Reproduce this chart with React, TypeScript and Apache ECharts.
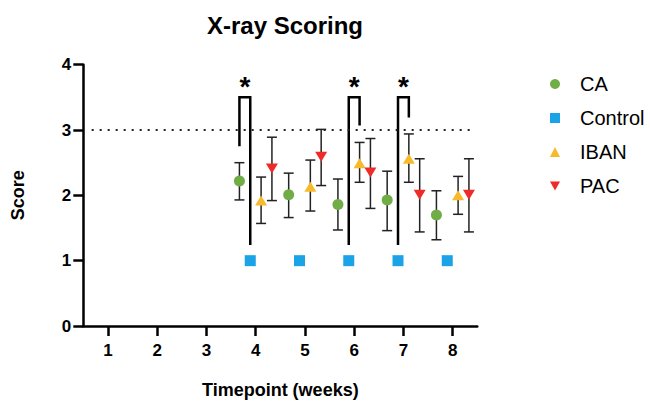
import React, { useEffect, useRef } from "react";
import * as echarts from "echarts";

const weeks = [4, 5, 6, 7, 8];
const xTickValues = [1, 2, 3, 4, 5, 6, 7, 8];
const groupNames = ["CA", "Control", "IBAN", "PAC"];

const caMean = [2.22, 2.01, 1.86, 1.93, 1.7];
const caLow = [1.93, 1.66, 1.47, 1.46, 1.32];
const caHigh = [2.5, 2.34, 2.25, 2.37, 2.07];

const controlMean = [1, 1, 1, 1, 1];

const ibanMean = [1.92, 2.13, 2.49, 2.56, 2.0];
const ibanLow = [1.57, 1.76, 2.2, 2.2, 1.71];
const ibanHigh = [2.28, 2.54, 2.81, 2.94, 2.29];

const pacMean = [2.41, 2.59, 2.35, 2.01, 2.01];
const pacLow = [1.92, 2.15, 1.8, 1.44, 1.44];
const pacHigh = [2.89, 3.01, 2.87, 2.56, 2.56];

const referenceValue = 3;

// significance brackets
const bracketWeeks = [4, 6, 7];
const bracketFrom = [0, 1, 1]; // group index
const bracketTo = [1, 2, 2];
const bracketLeftEnd = [2.75, 1.24, 1.24];
const bracketRightEnd = [1.24, 3.07, 3.19];
const bracketTop = [3.5, 3.5, 3.5];
const bracketLabel = ["*", "*", "*"];

const groupOffsets = [-0.33, -0.11, 0.11, 0.33];
const colors = ["#70AD47", "#1BA3E8", "#F6BA2A", "#EE2B28"];
const FONT = "'Liberation Sans', Arial, Helvetica, sans-serif";

const pts = (mean: number[], g: number) =>
  weeks.map((w, i) => [w + groupOffsets[g], mean[i]]);
const errs = (low: number[], high: number[], g: number) =>
  weeks.map((w, i) => [w + groupOffsets[g], low[i], high[i]]);

const errorRender = (params: any, api: any) => {
  const x = api.value(0);
  const pLo = api.coord([x, api.value(1)]);
  const pHi = api.coord([x, api.value(2)]);
  const cap = 5;
  const style = { stroke: "#222", lineWidth: 1.5 };
  return {
    type: "group",
    children: [
      { type: "line", shape: { x1: pLo[0], y1: pLo[1], x2: pHi[0], y2: pHi[1] }, style },
      { type: "line", shape: { x1: pLo[0] - cap, y1: pLo[1], x2: pLo[0] + cap, y2: pLo[1] }, style },
      { type: "line", shape: { x1: pHi[0] - cap, y1: pHi[1], x2: pHi[0] + cap, y2: pHi[1] }, style },
    ],
  };
};

const bracketRender = (params: any, api: any) => {
  const xl = api.value(0);
  const xr = api.value(1);
  const a = api.coord([xl, api.value(2)]);
  const b = api.coord([xl, api.value(4)]);
  const c = api.coord([xr, api.value(4)]);
  const d = api.coord([xr, api.value(3)]);
  return {
    type: "group",
    children: [
      {
        type: "polyline",
        shape: { points: [a, b, c, d] },
        style: { stroke: "#000", lineWidth: 2.5, fill: null, lineJoin: "miter" },
      },
      {
        type: "text",
        x: (b[0] + c[0]) / 2,
        y: b[1] - 11,
        style: {
          text: bracketLabel[params.dataIndex],
          fontSize: 28,
          fontWeight: "bold",
          fontFamily: FONT,
          fill: "#000",
          align: "center",
          verticalAlign: "middle",
        },
      },
    ],
  };
};

export default function App() {
  const ref = useRef<HTMLDivElement>(null);
  useEffect(() => {
    if (!ref.current) return;
    const chart = echarts.init(ref.current, undefined, { renderer: "svg" });
    const bracketData = bracketWeeks.map((w, i) => [
      w + groupOffsets[bracketFrom[i]],
      w + groupOffsets[bracketTo[i]],
      bracketLeftEnd[i],
      bracketRightEnd[i],
      bracketTop[i],
    ]);
    const errSeries = (name: string, data: number[][]) => ({
      type: "custom",
      name,
      silent: true,
      z: 1,
      renderItem: errorRender,
      encode: { x: 0, y: [1, 2] },
      data,
    });
    const option: any = {
      animation: false,
      textStyle: { fontFamily: FONT },
      title: {
        text: "X-ray Scoring",
        left: 280,
        textAlign: "center",
        top: 8,
        textStyle: { fontSize: 24, fontWeight: "bold", color: "#000", fontFamily: FONT },
      },
      legend: {
        orient: "vertical",
        left: 545,
        top: 69,
        itemWidth: 10,
        itemHeight: 10,
        itemGap: 14,
        selectedMode: false,
        textStyle: { fontSize: 20, color: "#000", fontFamily: FONT, padding: [0, 0, 0, 15] },
        data: [
          { name: "CA", icon: "circle" },
          { name: "Control", icon: "rect" },
          { name: "IBAN", icon: "triangle" },
          { name: "PAC", icon: "path://M0,0L10,0L5,9Z" },
        ],
      },
      grid: { left: 83.3, right: 172.7, top: 64.7, bottom: 78, outerBoundsMode: "none" },
      xAxis: {
        type: "value",
        min: 0.5,
        max: 8.5,
        name: "Timepoint (weeks)",
        nameLocation: "middle",
        nameGap: 55,
        nameTextStyle: { fontSize: 18, fontWeight: "bold", color: "#000", fontFamily: FONT },
        axisLine: { show: true, onZero: false, lineStyle: { color: "#000", width: 2.5 } },
        axisTick: { show: true, length: 10, lineStyle: { color: "#000", width: 2.5 }, customValues: xTickValues },
        axisLabel: {
          customValues: xTickValues,
          fontSize: 17,
          fontWeight: "bold",
          color: "#000",
          margin: 16,
          fontFamily: FONT,
        },
        splitLine: { show: false },
      },
      yAxis: {
        type: "value",
        min: 0,
        max: 4,
        interval: 1,
        name: "Score",
        nameLocation: "middle",
        nameGap: 56,
        nameTextStyle: { fontSize: 18, fontWeight: "bold", color: "#000", fontFamily: FONT },
        axisLine: { show: true, lineStyle: { color: "#000", width: 2.5 } },
        axisTick: { show: true, length: 10, lineStyle: { color: "#000", width: 2.5 } },
        axisLabel: { fontSize: 17, fontWeight: "bold", color: "#000", margin: 12, fontFamily: FONT },
        splitLine: { show: false },
      },
      series: [
        errSeries("CA-err", errs(caLow, caHigh, 0)),
        errSeries("IBAN-err", errs(ibanLow, ibanHigh, 2)),
        errSeries("PAC-err", errs(pacLow, pacHigh, 3)),
        {
          type: "scatter",
          name: groupNames[0],
          symbol: "circle",
          symbolSize: 11,
          z: 3,
          itemStyle: { color: colors[0], opacity: 1 },
          data: pts(caMean, 0),
        },
        {
          type: "scatter",
          name: groupNames[1],
          symbol: "rect",
          symbolSize: 11,
          z: 3,
          itemStyle: { color: colors[1], opacity: 1 },
          data: pts(controlMean, 1),
          markLine: {
            silent: true,
            symbol: "none",
            label: { show: false },
            lineStyle: { color: "#222", width: 2, type: [2, 6] },
            data: [[{ coord: [0.67, referenceValue] }, { coord: [8.35, referenceValue] }]],
          },
        },
        {
          type: "scatter",
          name: groupNames[2],
          symbol: "triangle",
          symbolSize: [12, 10],
          z: 3,
          itemStyle: { color: colors[2], opacity: 1 },
          data: pts(ibanMean, 2),
        },
        {
          type: "scatter",
          name: groupNames[3],
          symbol: "triangle",
          symbolRotate: 180,
          symbolSize: [12, 10],
          z: 3,
          itemStyle: { color: colors[3], opacity: 1 },
          data: pts(pacMean, 3),
        },
        {
          type: "custom",
          name: "brackets",
          silent: true,
          z: 4,
          renderItem: bracketRender,
          encode: { x: [0, 1], y: [2, 3, 4] },
          data: bracketData,
        },
      ],
    };
    chart.setOption(option);
    return () => chart.dispose();
  }, []);
  return (
    <div
      ref={ref}
      style={{ position: "fixed", left: 0, top: 0, width: 650, height: 404, background: "#fff" }}
    />
  );
}
